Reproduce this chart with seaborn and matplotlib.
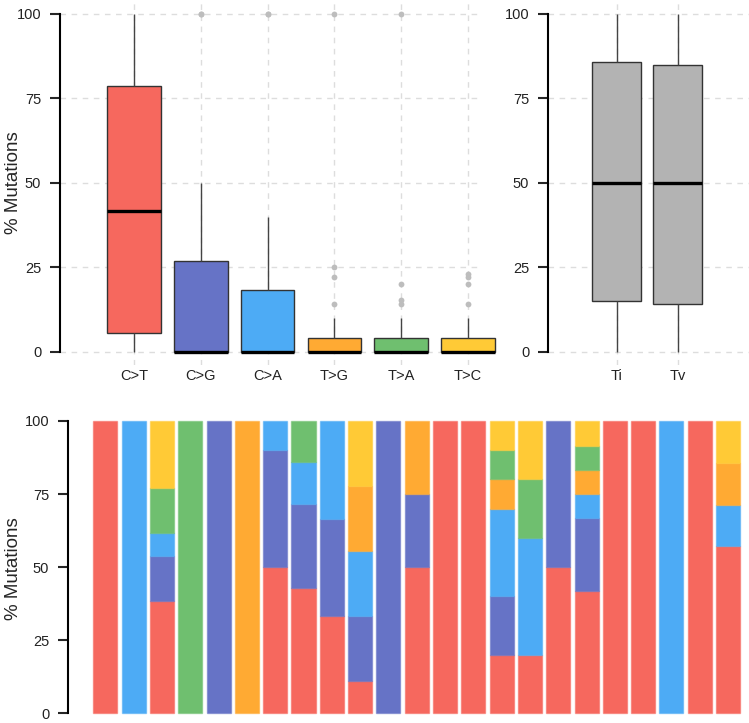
import numpy as np
import pandas as pd
import matplotlib
matplotlib.use("Agg")
import matplotlib.pyplot as plt
import seaborn as sns

# mutation types (stack order bottom -> top) and their colours
types = ["C>T", "C>G", "C>A", "T>G", "T>A", "T>C"]
type_colors = ["#F6685E", "#6673C6", "#4DABF5", "#FFAA33", "#6FBF6F", "#FFCA36"]
titv_labels = ["Ti", "Tv"]

# % of each mutation type per sample (23 samples)
ct = [100, 0, 38.5, 0, 0, 0, 50, 42.9, 33.3, 11.1, 0, 50, 100, 100, 20, 20, 50, 41.7, 100, 100, 0, 100, 57.1]
cg = [0, 0, 15.4, 0, 100, 0, 40, 28.6, 33.3, 22.2, 100, 25, 0, 0, 20, 0, 50, 25, 0, 0, 0, 0, 0]
ca = [0, 100, 7.7, 0, 0, 0, 10, 14.3, 33.4, 22.2, 0, 0, 0, 0, 30, 40, 0, 8.3, 0, 0, 100, 0, 14.3]
tg = [0, 0, 0, 0, 0, 100, 0, 0, 0, 22.2, 0, 25, 0, 0, 10, 0, 0, 8.3, 0, 0, 0, 0, 14.3]
ta = [0, 0, 15.4, 100, 0, 0, 0, 14.2, 0, 0, 0, 0, 0, 0, 10, 20, 0, 8.3, 0, 0, 0, 0, 0]
tc = [0, 0, 23.0, 0, 0, 0, 0, 0, 0, 22.3, 0, 0, 0, 0, 10, 20, 0, 8.4, 0, 0, 0, 0, 14.3]
series = [ct, cg, ca, tg, ta, tc]

# transitions = C>T + T>C, transversions = the rest
ti = np.array(ct) + np.array(tc)
tv = 100 - ti

long = pd.DataFrame(dict(zip(types, series))).melt(var_name="type", value_name="pct")
titv = pd.DataFrame(dict(zip(titv_labels, [ti, tv]))).melt(var_name="type", value_name="pct")

sns.set_style("white")
plt.rcParams["font.family"] = ["Liberation Sans", "DejaVu Sans"]
plt.rcParams["text.color"] = "#222222"

W, H = 749, 723
fig = plt.figure(figsize=(W / 100, H / 100), dpi=100)


def px_axes(left, top, right, bottom):
    return fig.add_axes([left / W, 1 - bottom / H, (right - left) / W, (bottom - top) / H])


ax1 = px_axes(60, 0, 500, 365)
ax2 = px_axes(548, 0, 749, 365)
ax3 = px_axes(68, 415, 749, 723)

box_kw = dict(width=0.8, linewidth=1, linecolor="#333333", saturation=1, showcaps=False,
              medianprops=dict(color="black", linewidth=2.4, solid_capstyle="butt"),
              whiskerprops=dict(color="#444444", linewidth=1),
              flierprops=dict(marker="o", markerfacecolor="#BDBDBD", markeredgecolor="none", markersize=4.2))

sns.boxplot(data=long, x="type", y="pct", hue="type", palette=type_colors, legend=False, ax=ax1, **box_kw)
sns.boxplot(data=titv, x="type", y="pct", hue="type", palette=["#B3B3B3", "#B3B3B3"], legend=False, ax=ax2, **box_kw)

# stacked bars, one per sample (skip empty segments so they leave no edge line)
x = np.arange(len(ct))
bottom = np.zeros(len(ct))
for vals, col in zip(series, type_colors):
    vals = np.array(vals)
    keep = vals > 0
    ax3.bar(x[keep], vals[keep], bottom=bottom[keep], width=0.85, color=col,
            edgecolor=matplotlib.colors.to_rgba(col, 0.55), linewidth=1)
    bottom += vals


def style(ax, ylim, ylabel_x=None):
    ax.set_ylim(*ylim)
    ax.set_yticks([0, 25, 50, 75, 100])
    for s in ["top", "right", "bottom"]:
        ax.spines[s].set_visible(False)
    ax.spines["left"].set_bounds(0, 100)
    ax.spines["left"].set_linewidth(1.5)
    ax.spines["left"].set_color("black")
    ax.tick_params(axis="y", length=7.5, width=1.5, pad=6, labelsize=10.5, labelcolor="#222222", left=True)
    ax.tick_params(axis="x", length=0, pad=3, labelsize=10.5, labelcolor="#222222")
    ax.set_xlabel("")
    if ylabel_x is None:
        ax.set_ylabel("")
    else:
        ax.set_ylabel("% Mutations", fontsize=13.5)
        ax.yaxis.set_label_coords(ylabel_x, 0.5)


grid_kw = dict(color="#DDDDDD", linewidth=1, linestyle=(0, (4, 4)))

style(ax1, (-3.85, 104.1), ylabel_x=(22 - 60) / 440)
ax1.set_xlim(-1.11, 5.48)
ax1.xaxis.grid(True, **grid_kw)
ax1.hlines([0, 25, 50, 75, 100], 0, 0.955, transform=ax1.get_yaxis_transform(), zorder=0, **grid_kw)
ax1.set_axisbelow(True)

style(ax2, (-3.85, 104.1))
ax2.set_xlim(-1.12, 2.16)
ax2.grid(True, **grid_kw)
ax2.set_axisbelow(True)

style(ax3, (-3.32, 102.05), ylabel_x=(22 - 68) / 681)
ax3.set_xlim(-1.32, 22.74)
ax3.set_xticks([])

fig.savefig("out.png", dpi=100)
